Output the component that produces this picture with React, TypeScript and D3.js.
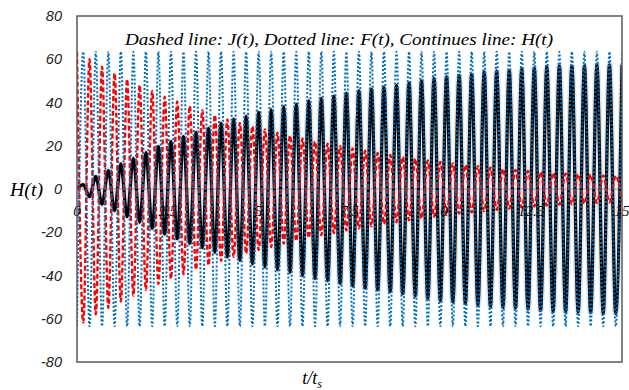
import * as d3 from "d3";

// Extremum amplitudes, one per half period (88 extrema over 0..15)
const hPeaks = [
  0, 2, 3.5, 5.7, 7, 8.5, 10, 11.6, 12.8, 14.2,
  15.5, 16.8, 18.2, 19.6, 20.8, 21.9, 23, 24.2, 25.2, 26.2,
  27.1, 28.2, 29.3, 30.4, 31.4, 32.3, 33, 33.6, 34.6, 35.4,
  36, 36.6, 37.3, 38, 38.5, 39.2, 40, 40.8, 41.4, 41.9,
  42.4, 42.9, 43.6, 44.2, 44.8, 45.4, 45.8, 46.2, 46.6, 46.9,
  47.4, 47.8, 48.4, 48.9, 49.4, 49.9, 50.5, 51.1, 51.5, 51.9,
  52.2, 52.5, 52.8, 53, 53.5, 54, 54.2, 54.5, 54.7, 54.8,
  55, 55.3, 55.5, 55.8, 56.1, 56.4, 56.6, 56.8, 56.8, 56.8,
  56.8, 56.8, 57.1, 57.4, 57.4, 57.4, 57.5, 57.5,
];
const jPeaks = [
  63.5, 61.6, 60, 58, 56.5, 55, 53.5, 52, 50.7, 49.3,
  48, 46.7, 45.3, 44, 42.7, 41.6, 40.5, 39.4, 38.4, 37.3,
  36.4, 35.3, 34.2, 33.2, 32.2, 31.4, 30.6, 29.8, 29, 28.2,
  27.5, 26.8, 26, 25.3, 24.6, 24, 23.4, 22.6, 21.9, 21.4,
  21, 20.4, 19.8, 19.2, 18.7, 18.2, 17.7, 17.2, 16.7, 16.2,
  15.7, 15.3, 14.8, 14.4, 14, 13.6, 13.2, 12.8, 12.5, 12.1,
  11.8, 11.4, 11.1, 10.8, 10.5, 10.2, 9.9, 9.6, 9.3, 9,
  8.8, 8.5, 8.3, 8.1, 7.8, 7.6, 7.4, 7.2, 7.1, 7,
  6.8, 6.7, 6.6, 6.4, 6.3, 6.2, 6.1, 6,
];
const fAmplitude = 63.5;

const yTicks = [-80, -60, -40, -20, 0, 20, 40, 60, 80];
const xTicks = [0, 2.5, 5, 7.5, 10, 12.5, 15];
const tMax = 15;

const W = 629;
const H = 390;
const left = 77;
const right = 622;
const top = 16;
const bottom = 362;

const serif = "'Liberation Serif', 'DejaVu Serif', serif";
const sans = "'Liberation Sans', Arial, sans-serif";

export default function App() {
  const x = d3.scaleLinear().domain([0, tMax]).range([left, right]);
  const y = d3.scaleLinear().domain([-80, 80]).range([bottom, top]);
  const n = hPeaks.length;
  const tAt = (k: number) => (k * tMax) / (n - 1);

  // extrema with alternating sign: J starts at a crest, F and H at a trough
  const jPts: [number, number][] = jPeaks.map((a, k) => [tAt(k), k % 2 === 0 ? a : -a]);
  const hPts: [number, number][] = hPeaks.map((a, k) => [tAt(k), k % 2 === 0 ? -a : a]);
  const fPts: [number, number][] = hPeaks.map((_, k) => [tAt(k), k % 2 === 0 ? -fAmplitude : fAmplitude]);

  const line = d3
    .line<[number, number]>()
    .x((d) => x(d[0]))
    .y((d) => y(d[1]))
    .curve(d3.curveMonotoneX);

  return (
    <svg width={W} height={H} style={{ position: "absolute", left: 0, top: 0, background: "#fff" }}>
      <rect x={0} y={0} width={W} height={H} fill="#fff" />
      <defs>
        <clipPath id="plot">
          <rect x={left} y={top} width={right - left} height={bottom - top} />
        </clipPath>
      </defs>

      <line x1={left} x2={right} y1={y(0)} y2={y(0)} stroke="#bfbfbf" strokeWidth={1.5} />

      <g clipPath="url(#plot)">
        <path d={line(hPts) ?? ""} fill="none" stroke="#9a9a9a" strokeOpacity={0.25} strokeWidth={6.5} />
        <path d={line(hPts) ?? ""} fill="none" stroke="#000" strokeWidth={3.2} />
        <path d={line(jPts) ?? ""} fill="none" stroke="#ff0000" strokeWidth={2.4} strokeDasharray="5 2.5" />
        <path d={line(fPts) ?? ""} fill="none" stroke="#0070c0" strokeWidth={2} strokeDasharray="2 2" />
      </g>

      <rect x={left} y={top} width={right - left} height={bottom - top} fill="none" stroke="#595959" strokeWidth={1.5} />

      {yTicks.map((v) => (
        <text key={v} x={62} y={y(v) + 5} textAnchor="end" fontFamily={sans} fontStyle="italic" fontSize={14.5} fill="#222">
          {v}
        </text>
      ))}
      {xTicks.map((v) => (
        <text key={v} x={x(v)} y={y(0) + 27} textAnchor="middle" fontFamily={serif} fontStyle="italic" fontSize={15} fill="#111">
          {v}
        </text>
      ))}

      <text x={10} y={196} textLength={33} lengthAdjust="spacingAndGlyphs" fontFamily={serif} fontStyle="italic" fontSize={19} fill="#000">
        H(t)
      </text>
      <text x={312} y={384} textAnchor="middle" fontFamily={serif} fontStyle="italic" fontSize={18} fill="#000">
        t/t<tspan fontSize={12} dy={4}>s</tspan>
      </text>
      <text x={125} y={45} textLength={428} lengthAdjust="spacingAndGlyphs" fontFamily={serif} fontStyle="italic" fontSize={17} fill="#000">
        Dashed line: J(t), Dotted line: F(t), Continues line: H(t)
      </text>
    </svg>
  );
}
